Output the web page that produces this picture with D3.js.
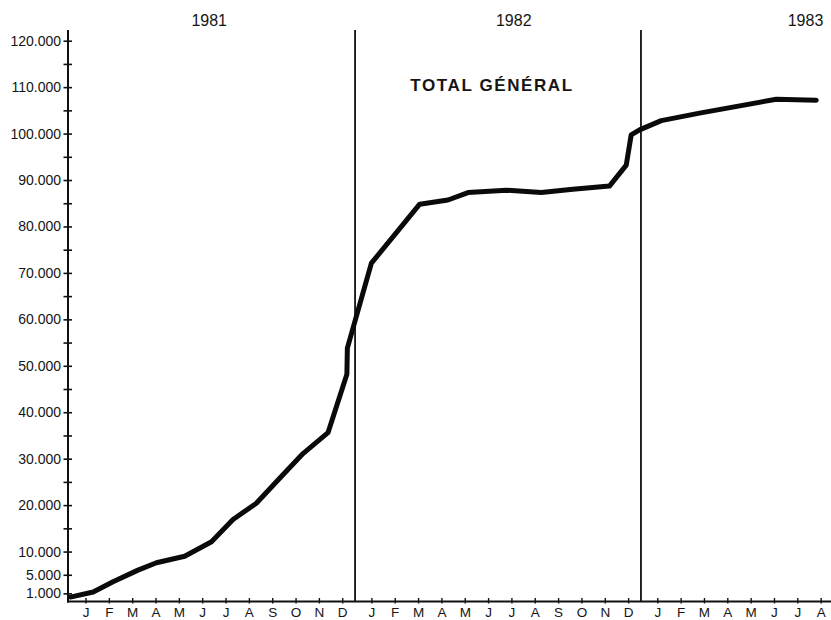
<!DOCTYPE html>
<html>
<head>
<meta charset="utf-8">
<script src="https://cdn.jsdelivr.net/npm/d3@7"></script>
<style>
  html, body { margin: 0; padding: 0; background: #fff; }
  svg { display: block; }
  text { font-family: "Liberation Sans", Arial, sans-serif; fill: #151515; }
</style>
</head>
<body>
<svg id="chart" width="831" height="620"></svg>
<script>
// ---- data ----
const years = ["1981", "1982", "1983"];
const monthLabels = ["J", "F", "M", "A", "M", "J", "J", "A", "S", "O", "N", "D"];
const monthsShown = [12, 12, 8];
const chartTitle = "TOTAL GÉNÉRAL";

// cumulative totals: year index, month position (0 = January), value
const pointYear  = [0, 0, 0, 0, 0, 0, 0, 0, 0, 0, 0, 0, 0, 0,
                    1, 1, 1, 1, 1, 1, 1, 1, 1, 1, 1,
                    2, 2, 2, 2];
const pointMonth = [-0.65, 0.33, 1.18, 2.25, 3.04, 4.25, 5.40, 6.32, 7.32, 8.32, 9.32, 10.39, 11.2, 11.22,
                    0.0, 2.07, 3.28, 4.14, 5.78, 7.28, 8.63, 10.2, 10.92, 11.13, 11.49,
                    0.17, 1.81, 5.1, 6.81];
const totals     = [200, 1300, 3500, 6000, 7600, 9000, 12100, 16900, 20400, 25800, 31100, 35600, 48200, 53800,
                    72100, 84800, 85700, 87300, 87800, 87300, 88000, 88700, 93200, 99700, 100800,
                    102800, 104400, 107400, 107200];

const yLabelTicks = [1000, 5000, 10000, 20000, 30000, 40000, 50000, 60000, 70000, 80000, 90000, 100000, 110000, 120000];
const yMinorTicks = [15000, 25000, 35000, 45000, 55000, 65000, 75000, 85000, 95000, 105000, 115000];

// ---- layout ----
const svg = d3.select("#chart");
const axisX = 68, axisBottom = 601.5, axisTop = 30;
const yearSpan = 12.25; // months per year band incl. gap

const x = d3.scaleLinear().domain([-0.75, 31.9]).range([axisX, 830]);
const y = d3.scaleLinear().domain([0, 120000]).range([598, 40.7]);
const slot = (yi, m) => yi * yearSpan + m;

const fmt = d3.formatLocale({ decimal: ",", thousands: ".", grouping: [3], currency: ["", ""] }).format(",d");

// year dividers
[1, 2].forEach(yi => {
  const xv = x(slot(yi, -0.7));
  svg.append("line")
    .attr("x1", xv).attr("x2", xv)
    .attr("y1", axisTop).attr("y2", axisBottom)
    .attr("stroke", "#111").attr("stroke-width", 1.8);
});

// y axis
const yAxisG = svg.append("g").attr("transform", `translate(${axisX},0)`);
yAxisG.call(d3.axisLeft(y).tickValues(yLabelTicks).tickFormat(fmt).tickSizeOuter(0));
yAxisG.select(".domain").remove();
yAxisG.selectAll(".tick line").attr("x1", -4.5).attr("x2", 4).attr("stroke", "#111").attr("stroke-width", 1.6);
yAxisG.selectAll(".tick text").attr("x", -7).attr("font-size", "14px")
  .style("font-family", "'Liberation Sans', Arial, sans-serif").attr("fill", "#151515");

const yMinorG = svg.append("g").attr("transform", `translate(${axisX},0)`);
yMinorG.call(d3.axisLeft(y).tickValues(yMinorTicks).tickFormat("").tickSizeOuter(0));
yMinorG.select(".domain").remove();
yMinorG.selectAll(".tick line").attr("x1", -4.5).attr("x2", 4).attr("stroke", "#111").attr("stroke-width", 1.6);

svg.append("line")
  .attr("x1", axisX).attr("x2", axisX).attr("y1", axisTop).attr("y2", axisBottom + 1)
  .attr("stroke", "#111").attr("stroke-width", 2);

// x axis
const tickSlots = [], tickNames = [];
monthsShown.forEach((n, yi) => {
  for (let m = 0; m < n; m++) { tickSlots.push(slot(yi, m)); tickNames.push(monthLabels[m]); }
});
const xAxisG = svg.append("g").attr("transform", `translate(0,${axisBottom})`);
xAxisG.call(d3.axisBottom(x).tickValues(tickSlots).tickFormat((d, i) => tickNames[i]).tickSizeOuter(0));
xAxisG.select(".domain").remove();
xAxisG.selectAll(".tick line").attr("y1", -3.5).attr("y2", 2).attr("stroke", "#111").attr("stroke-width", 1.4);
xAxisG.selectAll(".tick text").attr("y", 5.5).attr("font-size", "13.5px")
  .style("font-family", "'Liberation Sans', Arial, sans-serif").attr("fill", "#151515");

svg.append("line")
  .attr("x1", axisX - 1).attr("x2", 831).attr("y1", axisBottom).attr("y2", axisBottom)
  .attr("stroke", "#111").attr("stroke-width", 2);

// year labels
const yearLabelMonth = [5.3, 6.1, 6.35];
years.forEach((yr, yi) => {
  svg.append("text")
    .attr("x", x(slot(yi, yearLabelMonth[yi])))
    .attr("y", 26)
    .attr("text-anchor", "middle")
    .attr("font-size", "16px")
    .text(yr);
});

// title
svg.append("text")
  .attr("x", 492).attr("y", 91)
  .attr("text-anchor", "middle")
  .attr("font-size", "17px")
  .attr("font-weight", "900")
  .attr("letter-spacing", "1.6px")
  .style("font-family", "'Liberation Sans', Arial, sans-serif")
  .text(chartTitle);

// curve
const pts = totals.map((v, i) => ({ s: slot(pointYear[i], pointMonth[i]), v }));
const line = d3.line().x(d => x(d.s)).y(d => y(d.v));
svg.append("path")
  .datum(pts)
  .attr("d", line)
  .attr("fill", "none")
  .attr("stroke", "#0a0a0a")
  .attr("stroke-width", 5)
  .attr("stroke-linejoin", "round")
  .attr("stroke-linecap", "round");
</script>
</body>
</html>
